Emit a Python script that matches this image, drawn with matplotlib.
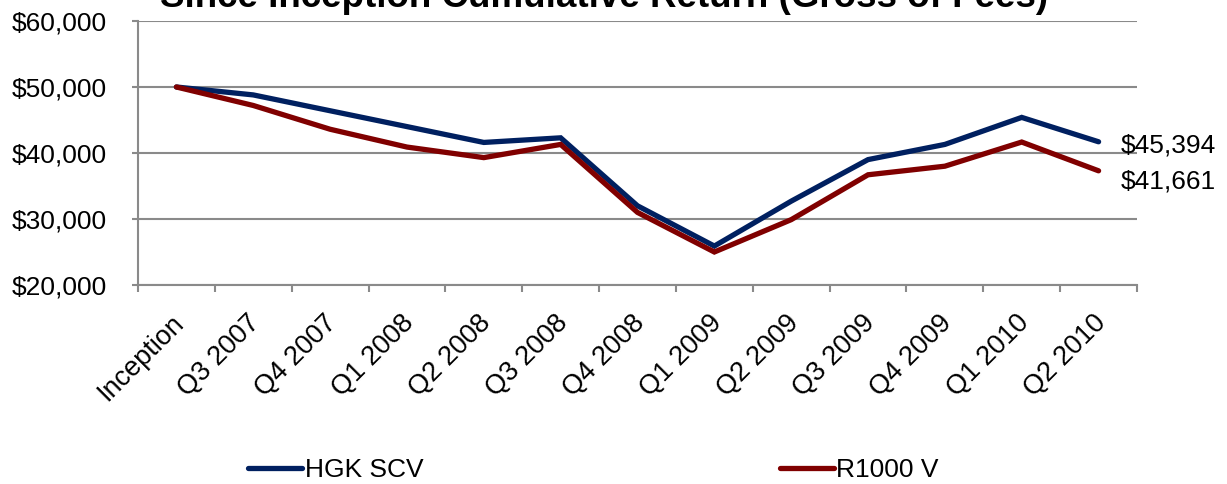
import numpy as np
import matplotlib
matplotlib.use("Agg")
import matplotlib.pyplot as plt
from matplotlib.ticker import FuncFormatter, FixedLocator
from matplotlib.transforms import ScaledTranslation

quarters = ["Inception", "Q3 2007", "Q4 2007", "Q1 2008", "Q2 2008", "Q3 2008",
            "Q4 2008", "Q1 2009", "Q2 2009", "Q3 2009", "Q4 2009", "Q1 2010", "Q2 2010"]
hgk_scv = [50000, 48800, 46400, 44000, 41600, 42300, 32000, 25900, 32700, 39000, 41300, 45394, 41700]
r1000_v = [50000, 47200, 43600, 40900, 39300, 41300, 31000, 25000, 29900, 36700, 38000, 41661, 37300]
end_labels = ["$45,394", "$41,661"]

plt.rcParams['font.family'] = ['Liberation Sans', 'DejaVu Sans']

W, H = 1227, 484
fig = plt.figure(figsize=(W / 100, H / 100), dpi=100)
ax = fig.add_axes([138 / W, 1 - 285 / H, (1137 - 138) / W, (285 - 21) / H])

blue = "#002060"
red = "#800000"
grid_c = "#8a8a8a"

x = np.arange(len(quarters))
l1, = ax.plot(x, hgk_scv, color=blue, lw=3.8, solid_capstyle='round', solid_joinstyle='miter', label="HGK SCV", zorder=3)
l2, = ax.plot(x, r1000_v, color=red, lw=3.8, solid_capstyle='round', solid_joinstyle='miter', label="R1000 V", zorder=3)

ax.set_xlim(-0.5, len(quarters) - 0.5)
ax.set_ylim(20000, 60000)
ax.set_yticks(np.arange(20000, 60001, 10000))
ax.yaxis.set_major_formatter(FuncFormatter(lambda v, p: "${:,.0f}".format(v)))
ax.grid(axis='y', color=grid_c, lw=1.5)
ax.set_axisbelow(True)

ax.set_xticks(x)
ax.set_xticklabels(quarters, rotation=45, ha='right', va='top', rotation_mode='anchor')
ax.xaxis.set_minor_locator(FixedLocator(np.arange(-0.5, len(quarters), 1)))
ax.tick_params(axis='x', which='major', length=0, pad=18, labelsize=19.5)
ax.tick_params(axis='x', which='minor', length=5.2, width=1.5, color=grid_c, direction='out')
ax.tick_params(axis='y', length=4.5, width=1.5, color=grid_c, pad=18, labelsize=19)
shift = ScaledTranslation(-0.06, 0, fig.dpi_scale_trans)
for lab in ax.get_xticklabels():
    lab.set_transform(lab.get_transform() + shift)

for s in ['top', 'right']:
    ax.spines[s].set_visible(False)
for s in ['left', 'bottom']:
    ax.spines[s].set_color(grid_c)
    ax.spines[s].set_linewidth(1.5)

# end labels
ax.annotate(end_labels[0], (x[-1], hgk_scv[-1]), xytext=(117, -4), textcoords='offset pixels',
            ha='right', va='center', fontsize=19, annotation_clip=False)
ax.annotate(end_labels[1], (x[-1], r1000_v[-1]), xytext=(117, -11), textcoords='offset pixels',
            ha='right', va='center', fontsize=19, annotation_clip=False)

fig.text(604 / W, 1 - 7 / H, "Since Inception Cumulative Return (Gross of Fees)",
         ha='center', va='baseline', fontsize=26.5, fontweight='bold')

fig.legend(handles=[l1, l2], loc='center left', bbox_to_anchor=(248 / W, 1 - 470 / H),
           ncol=2, frameon=False, fontsize=19, handlelength=2.05, handletextpad=0.1,
           columnspacing=13.5, borderpad=0, borderaxespad=0)

fig.savefig("out.png", dpi=100)
